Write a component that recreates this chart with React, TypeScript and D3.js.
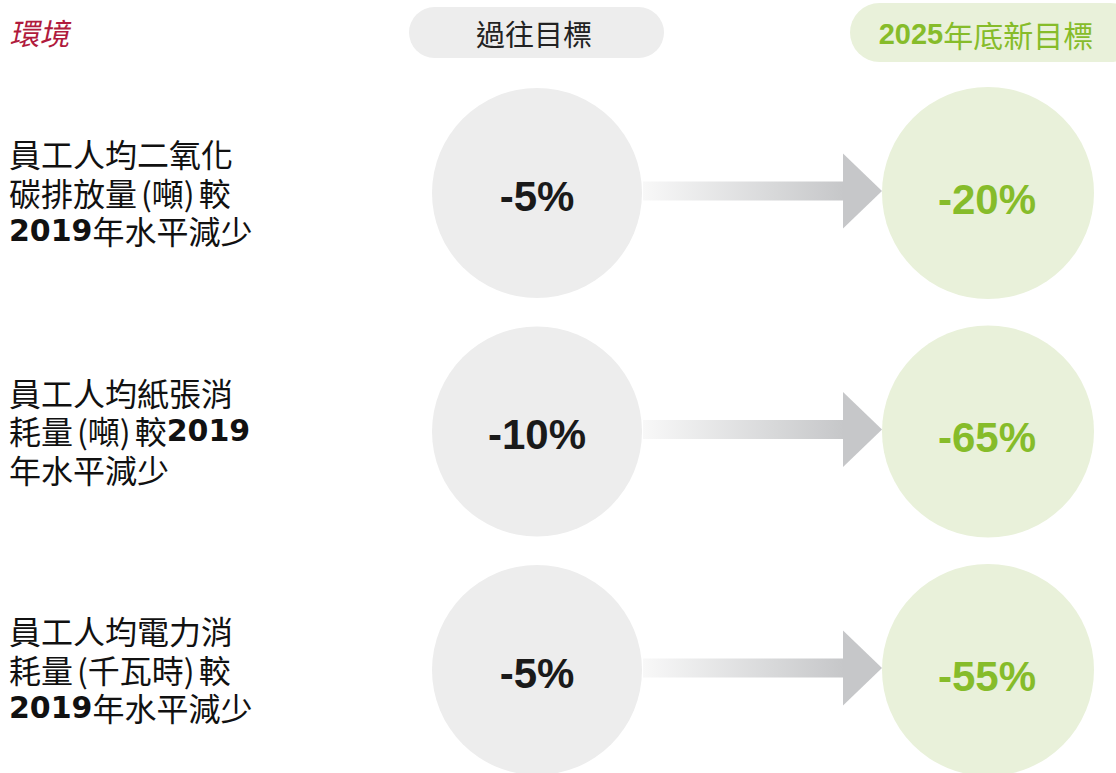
import React from "react";
import * as d3 from "d3";

const title = "環境";
const pastHeader = "過往目標";
const newHeader = "2025年底新目標";
const labelLines: string[][] = [
  ["員工人均二氧化", "碳排放量(噸)較", "2019年水平減少"],
  ["員工人均紙張消", "耗量(噸)較2019", "年水平減少"],
  ["員工人均電力消", "耗量(千瓦時)較", "2019年水平減少"],
];
const pastValues = ["-5%", "-10%", "-5%"];
const newValues = ["-20%", "-65%", "-55%"];

const W = 1116;
const H = 773;
const CJK = "'Noto Sans CJK TC', 'Noto Sans CJK SC', sans-serif";
const NUM = "'Liberation Sans', Arial, sans-serif";
const GREEN = "#86bc2a";
const GREEN_BG = "#e9f1da";
const GRAY_BG = "#ededed";

function MixedText({
  text,
  color,
  digitFont,
  digitSize,
  cjkSize,
}: {
  text: string;
  color: string;
  digitFont: string;
  digitSize: number;
  cjkSize: number;
}) {
  const parts = text.split(/(\d+|[()])/).filter((p) => p.length);
  return (
    <>
      {parts.map((p, i) => {
        if (/^\d+$/.test(p))
          return (
            <tspan key={i} fontFamily={digitFont} fontWeight={700} fontSize={digitSize} fill={color}>
              {p}
            </tspan>
          );
        if (p === "(")
          return (
            <tspan key={i} dx={4} fontFamily={CJK} fontSize={cjkSize} fill={color}>
              {p}
            </tspan>
          );
        if (p === ")")
          return (
            <tspan key={i} fontFamily={CJK} fontSize={cjkSize} fill={color}>
              {p}
            </tspan>
          );
        const prev = parts[i - 1];
        return (
          <tspan key={i} dx={prev === ")" ? 4 : 0} fontFamily={CJK} fontWeight={400} fontSize={cjkSize} fill={color}>
            {p}
          </tspan>
        );
      })}
    </>
  );
}

export default function App() {
  const rows = d3.range(labelLines.length);
  const rowY = d3.scaleLinear().domain([0, rows.length - 1]).range([193, 670]);
  const pastX = 537;
  const newX = 988;
  const lineY = d3.scaleLinear().domain([0, 2]).range([-40, 37]);

  return (
    <svg
      width={W}
      height={H}
      style={{ position: "absolute", left: 0, top: 0, background: "#fff" }}
    >
      <defs>
        <linearGradient id="shaft" x1="0" x2="1" y1="0" y2="0">
          <stop offset="0" stopColor="#f8f8f8" />
          <stop offset="1" stopColor="#c6c7c9" />
        </linearGradient>
      </defs>
      <text
        x={12}
        y={32}
        dominantBaseline="central"
        fontFamily={CJK}
        fontSize={30}
        fill="#b01a3c"
        transform="translate(7,0) skewX(-12)"
      >
        {title}
      </text>
      <rect x={409} y={7} width={255} height={51} rx={25.5} fill={GRAY_BG} />
      <text
        x={534}
        y={33}
        textAnchor="middle"
        dominantBaseline="central"
        fontFamily={CJK}
        fontSize={29}
        fill="#222"
      >
        {pastHeader}
      </text>
      <rect x={850} y={3} width={290} height={59} rx={29.5} fill={GREEN_BG} />
      <text
        x={986}
        y={34}
        textAnchor="middle"
        dominantBaseline="central"
      >
        <MixedText text={newHeader} color={GREEN} digitFont={NUM} digitSize={29} cjkSize={30} />
      </text>

      {rows.map((i) => {
        const cy = rowY(i);
        const ay = cy - 2;
        return (
          <g key={i}>
            {labelLines[i].map((ln, j) => (
              <text
                key={j}
                x={9}
                y={cy + lineY(j)}
                dominantBaseline="central"
              >
                <MixedText
                  text={ln}
                  color="#111"
                  digitFont="'DejaVu Sans', sans-serif"
                  digitSize={30}
                  cjkSize={32}
                />
              </text>
            ))}
            <circle cx={pastX} cy={cy} r={105} fill={GRAY_BG} />
            <circle cx={newX} cy={cy} r={106} fill={GREEN_BG} />
            <rect x={643} y={ay - 9.5} width={201} height={19} fill="url(#shaft)" />
            <path
              d={`M843,${ay - 37.5} L882,${ay} L843,${ay + 37.5} Z`}
              fill="#c6c7c9"
            />
            <text
              x={pastX}
              y={cy + 3}
              textAnchor="middle"
              dominantBaseline="central"
              fontFamily={NUM}
              fontWeight={700}
              fontSize={42}
              fill="#1a1a1a"
            >
              {pastValues[i]}
            </text>
            <text
              x={newX - 1}
              y={cy + 6}
              textAnchor="middle"
              dominantBaseline="central"
              fontFamily={NUM}
              fontWeight={700}
              fontSize={42}
              fill={GREEN}
            >
              {newValues[i]}
            </text>
          </g>
        );
      })}
    </svg>
  );
}
